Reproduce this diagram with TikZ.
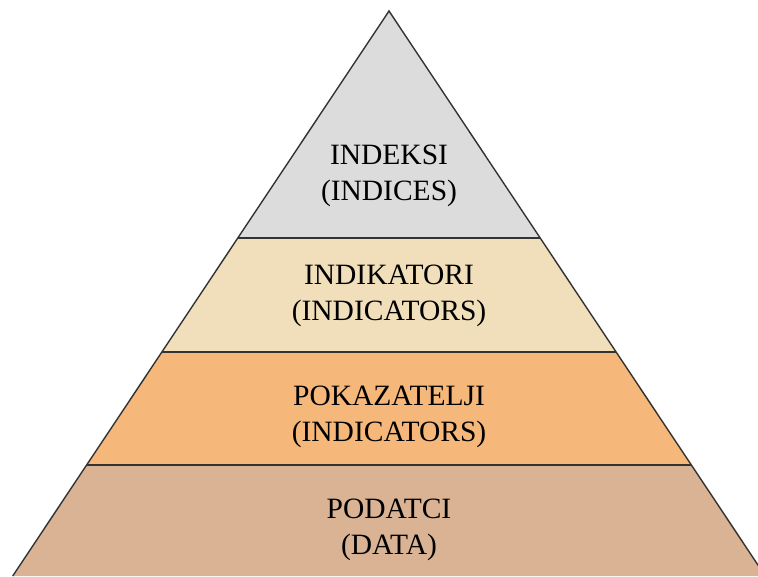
\documentclass[tikz,border=0pt]{standalone}
\usepackage{fontspec}
\setmainfont{Liberation Serif}
\definecolor{cIndeksi}{HTML}{DCDCDC}
\definecolor{cIndikatori}{HTML}{F0DFBA}
\definecolor{cPokazatelji}{HTML}{F5B77A}
\definecolor{cPodatci}{HTML}{D9B393}
\definecolor{cLine}{HTML}{333333}
\begin{document}
\begin{tikzpicture}[x=1pt,y=-1pt,
  layer/.style={draw=cLine,line width=1.4pt,line join=miter},
  label/.style={align=center,font=\fontsize{29.5}{36}\selectfont,text=black,inner sep=0pt}]
\useasboundingbox (0,0) rectangle (758,576);
\clip (0,0) rectangle (758,576);
% apex (389,11), half-width = (y-11)*0.666
\coordinate (apex) at (389,11);
\coordinate (l1) at (237.8,238); \coordinate (r1) at (540.2,238);
\coordinate (l2) at (161.9,352); \coordinate (r2) at (616.1,352);
\coordinate (l3) at (86.6,465); \coordinate (r3) at (691.4,465);
\coordinate (l4) at (12.7,576); \coordinate (r4) at (765.3,576);
\fill[cPodatci] (l3) -- (r3) -- (r4) -- (l4) -- cycle;
\fill[cPokazatelji] (l2) -- (r2) -- (r3) -- (l3) -- cycle;
\fill[cIndikatori] (l1) -- (r1) -- (r2) -- (l2) -- cycle;
\fill[cIndeksi] (apex) -- (r1) -- (l1) -- cycle;
\draw[layer] (l1) -- (r1);
\draw[layer] (l2) -- (r2);
\draw[layer] (l3) -- (r3);
\draw[layer] (l4) -- (apex) -- (r4);
\node[label] (t1) at (389,176) {INDEKSI\\(INDICES)};
\node[label] (t2) at (389,296) {INDIKATORI\\(INDICATORS)};
\node[label] (t3) at (389,417) {POKAZATELJI\\(INDICATORS)};
\node[label] (t4) at (389,530) {PODATCI\\(DATA)};
\end{tikzpicture}
\end{document}
